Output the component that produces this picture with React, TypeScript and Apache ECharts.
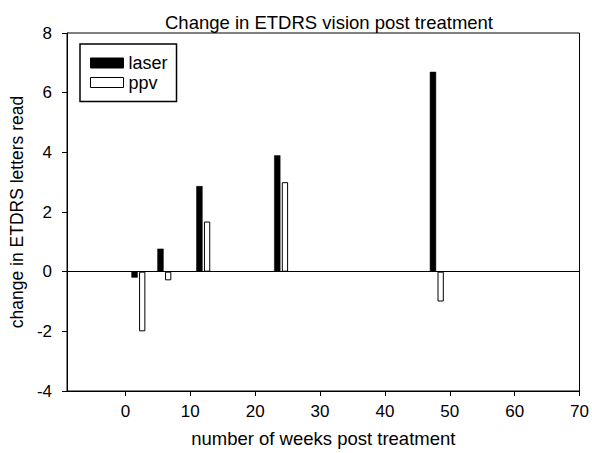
import React, { useEffect, useRef } from "react";
import * as echarts from "echarts";

const weeks = [2, 6, 12, 24, 48];
const laser = [-0.2, 0.77, 2.87, 3.9, 6.7];
const ppv = [-2.0, -0.29, 1.68, 3.0, -1.0];
const xTicks = [0, 10, 20, 30, 40, 50, 60, 70];

const FONT = "'Liberation Sans', Arial, Helvetica, sans-serif";

export default function App() {
  const ref = useRef<HTMLDivElement>(null);
  useEffect(() => {
    if (!ref.current) return;
    const chart = echarts.init(ref.current, undefined, { renderer: "svg" });
    chart.setOption({
      animation: false,
      backgroundColor: "#fff",
      textStyle: { fontFamily: FONT, color: "#000" },
      title: {
        text: "Change in ETDRS vision post treatment",
        left: 324,
        top: 8,
        textAlign: "center",
        textStyle: { fontFamily: FONT, fontSize: 18.5, fontWeight: "normal", color: "#000" },
      },
      legend: {
        orient: "vertical",
        left: 80,
        top: 44,
        padding: [10, 9, 10, 10],
        itemGap: 1.5,
        itemWidth: 33,
        itemHeight: 10,
        borderColor: "#000",
        borderWidth: 1.5,
        textStyle: { fontFamily: FONT, fontSize: 18, lineHeight: 17, color: "#000" },
        data: [
          { name: "laser", icon: "rect", itemStyle: { color: "#000", borderColor: "#000", borderWidth: 1 } },
          { name: "ppv", icon: "rect", itemStyle: { color: "#fff", borderColor: "#000", borderWidth: 1 } },
        ],
      },
      grid: {
        left: 66,
        right: 9,
        top: 33,
        bottom: 57.5,
        show: true,
        borderColor: "#000",
        borderWidth: 1,
        containLabel: false,
      },
      xAxis: {
        type: "value",
        min: -9,
        max: 70,
        name: "number of weeks post treatment",
        nameLocation: "middle",
        nameGap: 38,
        nameTextStyle: { fontFamily: FONT, fontSize: 18.5, color: "#000" },
        axisLine: { show: true, onZero: false, lineStyle: { color: "#000", width: 1 } },
        axisTick: { show: true, length: 5, inside: false, customValues: xTicks, lineStyle: { color: "#000" } },
        axisLabel: { customValues: xTicks, fontFamily: FONT, fontSize: 17, color: "#000", margin: 12 },
        splitLine: { show: false },
      },
      yAxis: {
        type: "value",
        min: -4,
        max: 8,
        interval: 2,
        name: "change in ETDRS letters read",
        nameLocation: "middle",
        nameGap: 27,
        nameTextStyle: { fontFamily: FONT, fontSize: 17.5, color: "#000" },
        axisLine: { show: true, onZero: false, lineStyle: { color: "#000", width: 1 } },
        axisTick: { show: true, length: 5, inside: false, lineStyle: { color: "#000" } },
        axisLabel: { fontFamily: FONT, fontSize: 17, color: "#000", margin: 15 },
        splitLine: { show: false },
      },
      series: [
        {
          name: "laser",
          type: "bar",
          barWidth: 6.3,
          barGap: "22%",
          data: weeks.map((w, i) => [w, laser[i]]),
          itemStyle: { color: "#000", borderColor: "#000", borderWidth: 0.5 },
          markLine: {
            silent: true,
            symbol: "none",
            label: { show: false },
            lineStyle: { color: "#000", width: 1, type: "solid" },
            data: [{ yAxis: 0 }],
          },
        },
        {
          name: "ppv",
          type: "bar",
          barWidth: 6.3,
          barGap: "22%",
          data: weeks.map((w, i) => [w, ppv[i]]),
          itemStyle: { color: "#fff", borderColor: "#000", borderWidth: 1 },
        },
      ],
    });
    return () => chart.dispose();
  }, []);
  return (
    <div
      ref={ref}
      style={{ position: "absolute", left: 0, top: 0, width: 592, height: 453 }}
    />
  );
}
